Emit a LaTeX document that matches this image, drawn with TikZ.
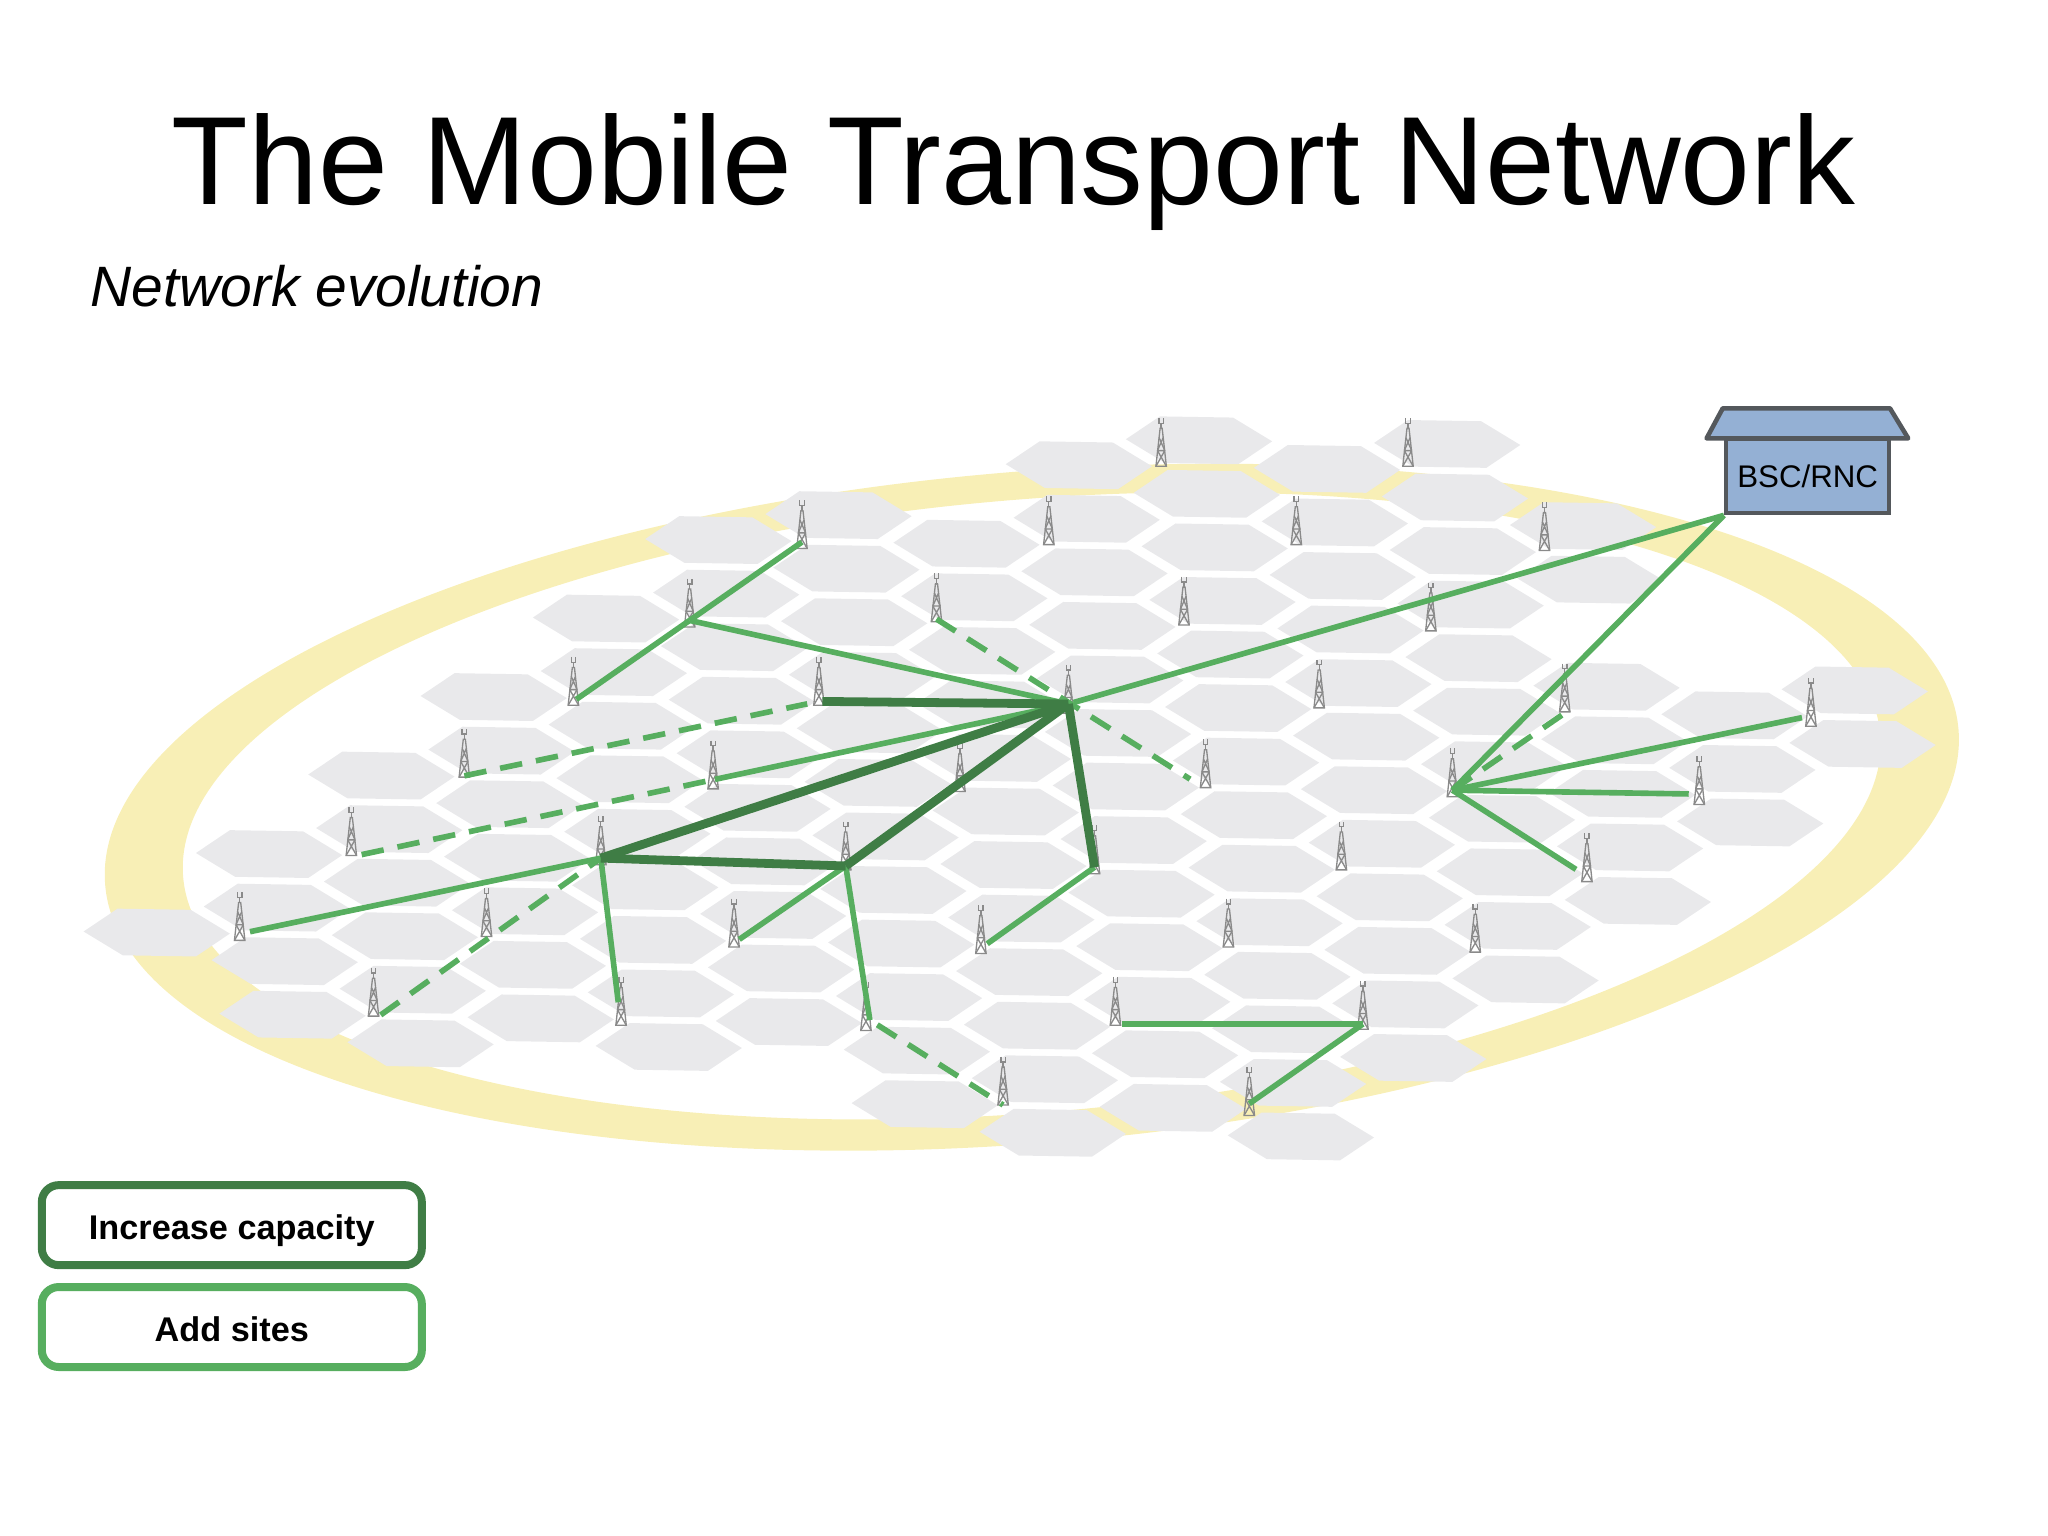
\documentclass[tikz,border=0pt]{standalone}
\usepackage{fontspec}
\setmainfont{Liberation Sans}
\definecolor{hexgray}{HTML}{E9E9EB}
\definecolor{ringyellow}{HTML}{F8EFB6}
\definecolor{darkgreen}{HTML}{3F7D45}
\definecolor{lightgreen}{HTML}{57AE5F}
\definecolor{roofblue}{HTML}{94B0D4}
\definecolor{roofedge}{HTML}{54585C}
\definecolor{towergray}{HTML}{8A8A8A}
\tikzset{
	capacity/.style={draw=darkgreen, line width=2.5pt},
	sites/.style={draw=lightgreen, line width=1.6pt},
	sitesdash/.style={sites, dash pattern=on 6.4pt off 4pt},
	legendbox/.style={fill=white, line width=2.27pt, rounded corners=4.8pt, minimum width=3.8cm, minimum height=0.8cm, text height=8pt, text depth=0pt, font=\fontsize{9.75}{12}\selectfont\bfseries},
	hexcell/.pic={
		\fill[hexgray] (-56,-0.8) -- (-30,-18.3) -- (26,-17.4) -- (56,0.8) -- (30,18.3) -- (-26,17.4) -- cycle;
	},
	tower/.pic={
		\draw[towergray, line width=0.38pt] (-4,0) -- (-0.8,-29) -- (0.8,-29) -- (4,0) -- cycle;
		\draw[towergray, line width=0.38pt] (-4,0) -- (2.8,-12) (4,0) -- (-2.8,-12) (-2.8,-12) -- (2.8,-12) (-1.6,-22) -- (2.8,-12) (1.6,-22) -- (-2.8,-12);
		\draw[towergray, line width=0.38pt] (0,-29) -- (0,-33) (-1.7,-37) -- (-1.7,-33) -- (1.7,-33) -- (1.7,-37);
	}
}

\begin{document}
\begin{tikzpicture}[x=0.0130612cm, y=-0.0130612cm]
	%%%%% START %%%%%
	\useasboundingbox (0,0) rectangle (1568,1176);

	\node[anchor=base, font=\fontsize{35.72}{40}\selectfont] (title) at (776,156.5) {The Mobile Transport Network};
	\node[anchor=base west, inner sep=0pt, font=\fontsize{16.2}{20}\selectfont\itshape] (subtitle) at (69,235) {Network evolution};

	\fill[ringyellow, even odd rule, rotate around={4.8:(790,618)}] (790,618) ellipse [x radius=712, y radius=257] (790,617) ellipse [x radius=652, y radius=234.6];

	% hexagon cells, column by column
	\foreach \m/\a/\b in {0/0/0, 1/-2/1, 2/-4/1, 3/-6/0, 4/-8/0, 5/-10/-1, 6/-11/0, 7/-11/0, 8/-13/-1, 9/-14/-1, 10/-14/-3, 11/-15/-5, 12/-14/-13, 12/-11/-7, 13/-11/-9, 14/-12/-11} {
		\foreach \n in {\a,...,\b} {
			\pic at ({120+98*\m+6*\n},{714+21.9*\m+41*\n}) {hexcell};
		}
	}

	% towers: name/x/foot/point where the links meet
	\foreach \n/\x/\b/\c in {
		614/614/420/415, 528/528/480/475, 439/439/540/537, 627/627/540/537, 355/355.5/595/594,
		546/546/604/597, 269/269/655/656, 735/735/606/606, 717/717/476/474, 460/460/662/657,
		647/647.5/666/663, 184/183.5/720/715, 373/372.5/717/717, 562/562/725/722, 751/751/730/726,
		286/286/778/781, 475/475.5/785/785, 663/663/789/789, 768/768/846/846, 889/889/357/357,
		1078/1078/357/357, 803/803/417/417, 992/992.5/417/417, 1182/1182.5/421.5/421.5, 906/906.5/478.5/478.5,
		1095/1095.5/483/483, 818/818/546/539, 1010/1010/542/542, 1198/1198/545/546, 923/923/603/604,
		1112/1112/610/605, 1386/1386.5/556/548, 1301/1301/616/608, 1215/1215/675/671, 838/838/669/664,
		1027/1027/666/666, 940/940.5/725/725, 1129/1129.5/729/729, 854/854/785/784, 1043/1043.5/788/784,
		956/956.5/854/845} {
		\coordinate (s\n) at (\x,\c);
		\pic at (\x,\b) {tower};
	}
	\coordinate (s663b) at (666,781);

	% BSC/RNC house
	\draw[fill=roofblue, draw=roofedge, line width=1.3pt, line join=round] (1306.6,335.6) -- (1319,312.6) -- (1447,312.6) -- (1461,335.6) -- cycle;
	\node[draw=roofedge, fill=roofblue, line width=1.3pt, minimum width=1.63cm, minimum height=0.74cm, inner sep=0pt, font=\fontsize{8.9}{10}\selectfont] (bsc) at (1384,364.5) {BSC/RNC};

	% added sites
	\draw[sites] (s614) -- (s528);
	\draw[sites, shorten >=1pt] (s528) -- (s439);
	\draw[sites] (s528) -- (s818);
	\draw[sites, shorten <=0.5pt] (s546) -- (s818);
	\draw[sites, shorten <=3pt] (s184) -- (s460);
	\draw[sites, shorten >=6.6pt] (s460) -- (s475);
	\draw[sites, shorten <=1.8pt] (s562) -- (s647);
	\draw[sites] (s647) -- (s663b);
	\draw[sites, shorten <=2.2pt] (s751) -- (s838);
	\draw[sites, shorten <=1.5pt] (s818) -- (bsc.south west);
	\draw[sites] (bsc.south west) -- (s1112);
	\draw[sites, shorten >=2.6pt] (s1112) -- (s1386);
	\draw[sites, shorten >=3pt] (s1112) -- (s1301);
	\draw[sites, shorten >=3.7pt] (s1112) -- (s1215);
	\draw[sites, shorten <=1.8pt] (s854) -- (s1043);
	\draw[sites] (s1043) -- (s956);
	\draw[sitesdash, shorten >=3.4pt] (s355) -- (s627);
	\draw[sitesdash, shorten <=3pt] (s269) -- (s546);
	\draw[sitesdash, shorten <=2.5pt] (s286) -- (s460);
	\draw[sitesdash, shorten >=5.2pt] (s717) -- (s923);
	\draw[sitesdash, shorten <=2.5pt] (s663b) -- (s768);
	\draw[sitesdash, shorten <=1pt] (s1198) -- (s1112);

	% increased capacity
	\draw[capacity, shorten <=1pt] (s627) -- (s818);
	\draw[capacity] (s460) -- (s818);
	\draw[capacity] (s460) -- (s647);
	\draw[capacity] (s647) -- (s818);
	\draw[capacity] (s818) -- (s838);

	% legend
	\node[legendbox, draw=darkgreen] (increase) at (177.5,938) {Increase capacity};
	\node[legendbox, draw=lightgreen] (addsites) at (177.5,1016) {Add sites};
	%%%%% END %%%%%
\end{tikzpicture}
\end{document}
